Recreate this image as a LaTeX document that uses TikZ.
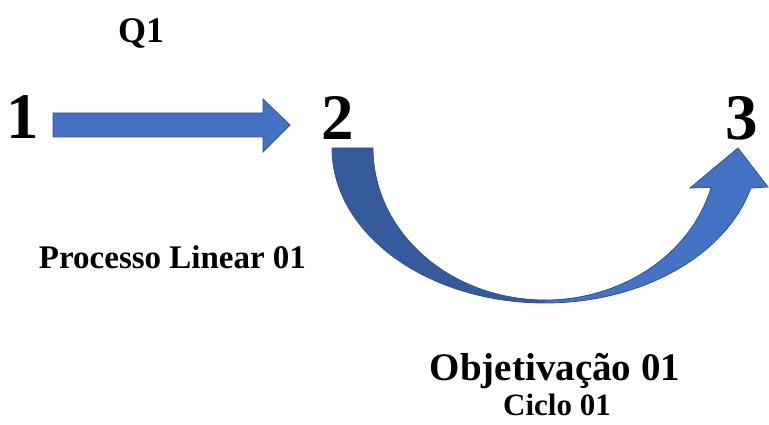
\documentclass[tikz,border=0pt]{standalone}
\usepackage{fontspec}
\setmainfont{Liberation Serif}
\usetikzlibrary{calc}

\definecolor{setaazul}{HTML}{4472C4}
\definecolor{setaescura}{HTML}{365B9D}
\definecolor{setaborda}{HTML}{2F528F}

\begin{document}
\begin{tikzpicture}[
    x=1pt, y=1pt,
    num/.style={font=\fontsize{65}{70}\selectfont\bfseries, anchor=base, inner sep=0pt},
    rotulo/.style={font=\fontsize{33}{36}\selectfont\bfseries, anchor=base, inner sep=0pt},
    seta/.style={fill=setaazul, draw=setaborda, line width=0.8pt, line join=miter},
]
\useasboundingbox (0,0) rectangle (769,424);

% Numeros
\node[num] (n1) at (23,286) {1};
\node[num] (n2) at (338,284) {2};
\node[num] (n3) at (742,284) {3};

% Rotulos
\node[rotulo, font=\fontsize{36}{40}\selectfont\bfseries] (q1) at (141,381) {Q1};
\node[rotulo] (linear) at (172.5,156) {Processo Linear 01};
\node[rotulo, font=\fontsize{39}{42}\selectfont\bfseries] (objetiv) at (555,44) {Objetivação 01};
\node[rotulo, font=\fontsize{31}{34}\selectfont\bfseries] (ciclo) at (557,9) {Ciclo 01};

% Seta reta 1 -> 2
\coordinate (a1) at ($(n1.base)+(30,13)$);
\coordinate (a2) at ($(n2.base)+(-48,15)$);
\draw[seta] ($(a1)+(0,12)$) -- ++(210,0) -- ++(0,14) -- (a2) -- ++(-27,-27)
    -- ++(0,15) -- ++(-210,0) -- cycle;

% Seta curva 2 -> 3
\coordinate (c) at (545,276);
\fill[setaescura] (c) ++(180:213 and 155)
    arc[start angle=180, end angle=270, x radius=213, y radius=155]
    -- ($(c)+(270:172 and 152)$)
    arc[start angle=270, end angle=180, x radius=172, y radius=152] -- cycle;
\fill[setaazul] (c) ++(270:213 and 155)
    arc[start angle=270, end angle=345, x radius=213, y radius=155]
    -- (768,237) -- (738,276) -- (690,236)
    -- ($(c)+(345:172 and 152)$)
    arc[start angle=345, end angle=270, x radius=172, y radius=152] -- cycle;
\draw[seta, fill=none] (c) ++(180:213 and 155)
    arc[start angle=180, end angle=345, x radius=213, y radius=155]
    -- (768,237) -- (738,276) -- (690,236)
    -- ($(c)+(345:172 and 152)$)
    arc[start angle=345, end angle=180, x radius=172, y radius=152] -- cycle;

\end{tikzpicture}
\end{document}
